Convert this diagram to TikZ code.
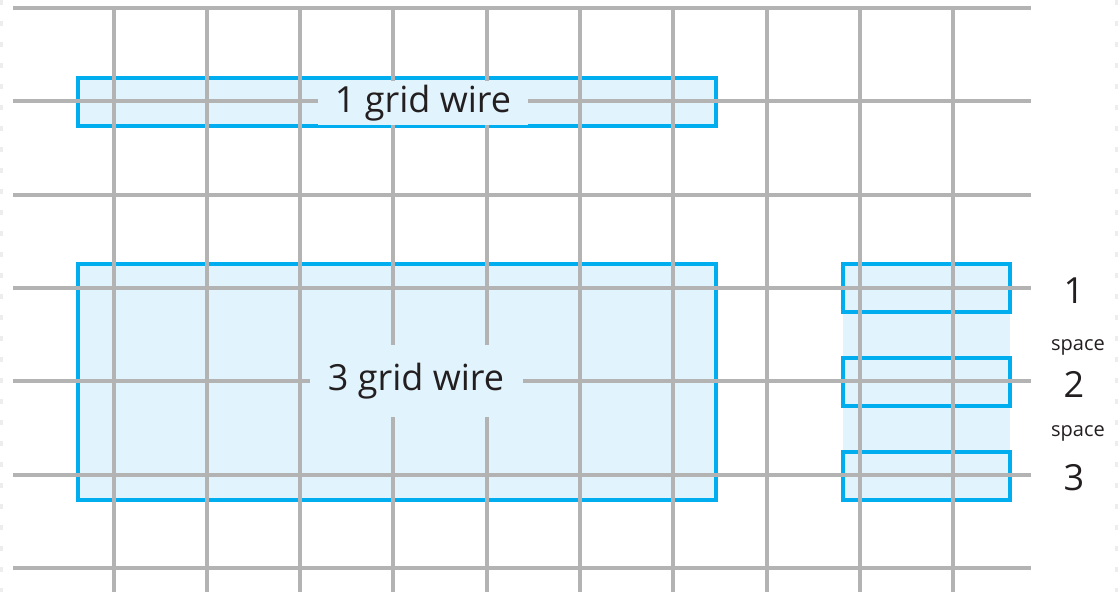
\documentclass[tikz,border=0pt]{standalone}
\usepackage{fontspec}
\setmainfont{Open Sans}
\usepackage{xcolor}
\usepackage{tikz}
\usetikzlibrary{positioning}
\definecolor{gridgray}{HTML}{B3B3B3}
\definecolor{wireblue}{HTML}{00AEEF}
\definecolor{wirefill}{HTML}{E1F3FC}
\definecolor{inktext}{HTML}{231F20}
\tikzset{
  gridline/.style={
    draw=gridgray,
    line width=4pt
  },
  wirebox/.style={
    draw=wireblue,
    line width=4pt,
    fill=wirefill
  },
  wirelabel/.style={
    fill=wirefill,
    text=inktext,
    font=\fontsize{36}{36}\selectfont,
    inner sep=0pt
  },
  countlabel/.style={
    text=inktext,
    font=\fontsize{36}{36}\selectfont,
    anchor=base,
    inner sep=0pt
  },
  spacelabel/.style={
    text=inktext,
    font=\fontsize{20}{20}\selectfont,
    anchor=base,
    inner sep=0pt
  },
  pageedge/.style={
    draw=black!7,
    line width=3pt,
    dash pattern=on 5pt off 16pt
  }
}

\begin{document}
\begin{tikzpicture}[x=1pt,y=-1pt]
  \useasboundingbox (0,0) rectangle (1118,592);
  \draw[pageedge] (1.5,0) -- (1.5,592);
  \draw[pageedge] (1116,0) -- (1116,592);
  % wires
  \draw[wirebox] (78,78) rectangle (716,126);
  \draw[wirebox] (78,264) rectangle (716,500);
  \fill[wirefill] (843,264) rectangle (1010,500);
  \foreach \y in {264,358,452}
    \draw[wirebox] (843,\y) rectangle (1010,\y+48);
  % grid
  \foreach \y in {8,101,195,288,381,475,568}
    \draw[gridline] (13,\y) -- (1031,\y);
  \foreach \x in {114,207,300,393,487,580,673,767,860,953}
    \draw[gridline] (\x,8) -- (\x,592);
  % labels
  \node[wirelabel,minimum width=210pt,minimum height=44pt] (onewire) at (423,103) {1 grid wire};
  \node[wirelabel,minimum width=213pt,minimum height=72pt] (threewire) at (416,381) {3 grid wire};
  \node[countlabel] (cnt1) at (1074,303) {1};
  \node[spacelabel] (gap1) at (1078,350) {space};
  \node[countlabel] (cnt2) at (1074,397) {2};
  \node[spacelabel] (gap2) at (1078,436) {space};
  \node[countlabel] (cnt3) at (1074,490) {3};
\end{tikzpicture}
\end{document}
